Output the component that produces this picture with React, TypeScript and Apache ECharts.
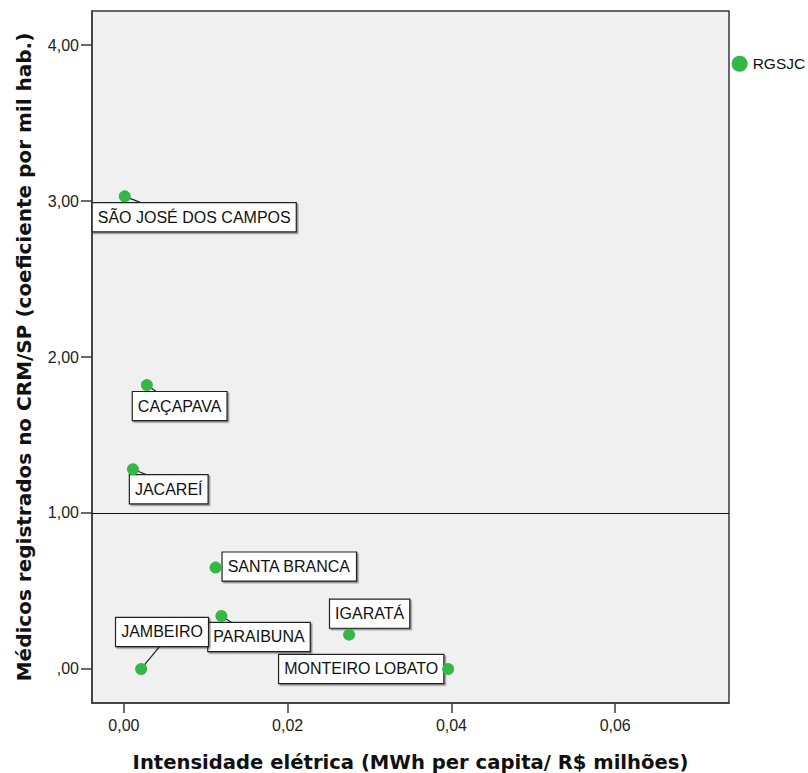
import React, { useEffect, useRef } from "react";
import * as echarts from "echarts";

// Municípios da RMVale (sub-região de São José dos Campos)
const municipios = [
  "SÃO JOSÉ DOS CAMPOS",
  "CAÇAPAVA",
  "JACAREÍ",
  "SANTA BRANCA",
  "PARAIBUNA",
  "JAMBEIRO",
  "IGARATÁ",
  "MONTEIRO LOBATO",
  "RGSJC",
];

// Intensidade elétrica (MWh per capita / R$ milhões)
const intensidadeEletrica = [0.0001, 0.0028, 0.0011, 0.0112, 0.0119, 0.0021, 0.0275, 0.0396, 0.0752];

// Médicos registrados no CRM/SP (coeficiente por mil hab.)
const medicosPorMil = [3.03, 1.82, 1.28, 0.65, 0.34, 0.0, 0.22, 0.0, 3.88];

const xTicks = [0, 0.02, 0.04, 0.06];
const yTicks = [0, 1, 2, 3, 4];
const referenciaY = 1;

// Label placement: box top-left offset from the point (px), and connector end offset (or null)
const labelBoxOffsets: [number, number][] = [
  [-32, 7],
  [-14, 7],
  [-3, 6],
  [7, -15],
  [-13, 7],
  [-25, -51],
  [-19, -35],
  [-169, -14],
  [13, 0],
];
const connectorEnds: ([number, number] | null)[] = [
  [18, 7],
  [10, 7],
  [15, 6],
  null,
  [11, 7],
  [19, -23],
  null,
  null,
  null,
];
const boxedLabel = [true, true, true, true, true, true, true, true, false];

const fmt = (v: number) => (v === 0 ? ",00" : v.toFixed(2).replace(".", ","));
const fmtX = (v: number) => v.toFixed(2).replace(".", ",");

export default function App() {
  const ref = useRef<HTMLDivElement>(null);

  useEffect(() => {
    if (!ref.current) return;
    const chart = echarts.init(ref.current, null, { renderer: "svg" });

    const pontos = intensidadeEletrica.map((x, i) => [x, medicosPorMil[i]]);

    chart.setOption({
      animation: false,
      backgroundColor: "#ffffff",
      grid: {
        left: 92,
        top: 11,
        width: 637,
        height: 692,
        outerBoundsMode: "none",
        containLabel: false,
        show: true,
        backgroundColor: "#f0f0f0",
        borderColor: "#3a3a3a",
        borderWidth: 1.5,
      },
      xAxis: {
        type: "value",
        min: -0.0039,
        max: 0.0739,
        name: "Intensidade elétrica (MWh per capita/ R$ milhões)",
        nameLocation: "middle",
        nameGap: 49,
        nameTextStyle: {
          fontFamily: "DejaVu Sans",
          fontWeight: "bold",
          fontSize: 19.6,
          color: "#111",
        },
        axisLine: { show: true, onZero: false, lineStyle: { color: "#3a3a3a", width: 1.5 } },
        axisTick: {
          show: true,
          length: 10,
          customValues: xTicks,
          lineStyle: { color: "#3a3a3a", width: 1.5 },
        },
        axisLabel: {
          customValues: xTicks,
          formatter: fmtX,
          margin: 14,
          fontFamily: "Liberation Sans",
          fontSize: 16,
          color: "#222",
        },
        splitLine: { show: false },
      },
      yAxis: {
        type: "value",
        min: -0.218,
        max: 4.218,
        name: "Médicos registrados no CRM/SP (coeficiente por mil hab.)",
        nameLocation: "middle",
        nameGap: 58,
        nameTextStyle: {
          fontFamily: "DejaVu Sans",
          fontWeight: "bold",
          fontSize: 20,
          color: "#111",
        },
        axisLine: { show: true, onZero: false, lineStyle: { color: "#3a3a3a", width: 1.5 } },
        axisTick: {
          show: true,
          length: 11,
          customValues: yTicks,
          lineStyle: { color: "#3a3a3a", width: 1.5 },
        },
        axisLabel: {
          customValues: yTicks,
          formatter: fmt,
          margin: 13,
          fontFamily: "Liberation Sans",
          fontSize: 16,
          color: "#222",
        },
        splitLine: { show: false },
      },
      series: [
        {
          type: "scatter",
          z: 4,
          clip: false,
          data: pontos.map((p, i) => ({
            value: p,
            symbolSize: boxedLabel[i] ? 12 : 16,
          })),
          itemStyle: { color: "#33b845", opacity: 1 },
          markLine: {
            silent: true,
            symbol: "none",
            label: { show: false },
            lineStyle: { color: "#111", width: 1.2, type: "solid" },
            data: [{ yAxis: referenciaY }],
          },
        },
        {
          type: "custom",
          z: 3,
          clip: false,
          data: pontos,
          renderItem: (params: any, api: any) => {
            const i = params.dataIndex;
            const [px, py] = api.coord([api.value(0), api.value(1)]);
            const [dx, dy] = labelBoxOffsets[i];
            const children: any[] = [];
            const conn = connectorEnds[i];
            if (conn) {
              children.push({
                type: "line",
                shape: { x1: px, y1: py, x2: px + conn[0], y2: py + conn[1] },
                style: { stroke: "#222", lineWidth: 1.2 },
              });
            }
            if (boxedLabel[i]) {
              children.push({
                type: "text",
                x: px + dx,
                y: py + dy,
                style: {
                  text: municipios[i],
                  align: "left",
                  verticalAlign: "top",
                  fontFamily: "Liberation Sans",
                  fontSize: 16,
                  lineHeight: 18,
                  fill: "#111",
                  backgroundColor: "#ffffff",
                  borderColor: "#222",
                  borderWidth: 1.2,
                  padding: [5, 5, 5, 5],
                  shadowColor: "rgba(0,0,0,0.4)",
                  shadowBlur: 1,
                  shadowOffsetX: 1.5,
                  shadowOffsetY: 1.5,
                },
              });
            } else {
              children.push({
                type: "text",
                x: px + dx,
                y: py + dy,
                style: {
                  text: municipios[i],
                  align: "left",
                  verticalAlign: "middle",
                  fontFamily: "Liberation Sans",
                  fontSize: 15.5,
                  fill: "#111",
                },
              });
            }
            return { type: "group", children };
          },
        },
      ],
    });

    return () => chart.dispose();
  }, []);

  return (
    <div
      ref={ref}
      style={{ position: "fixed", left: 0, top: 0, width: 808, height: 773 }}
    />
  );
}
